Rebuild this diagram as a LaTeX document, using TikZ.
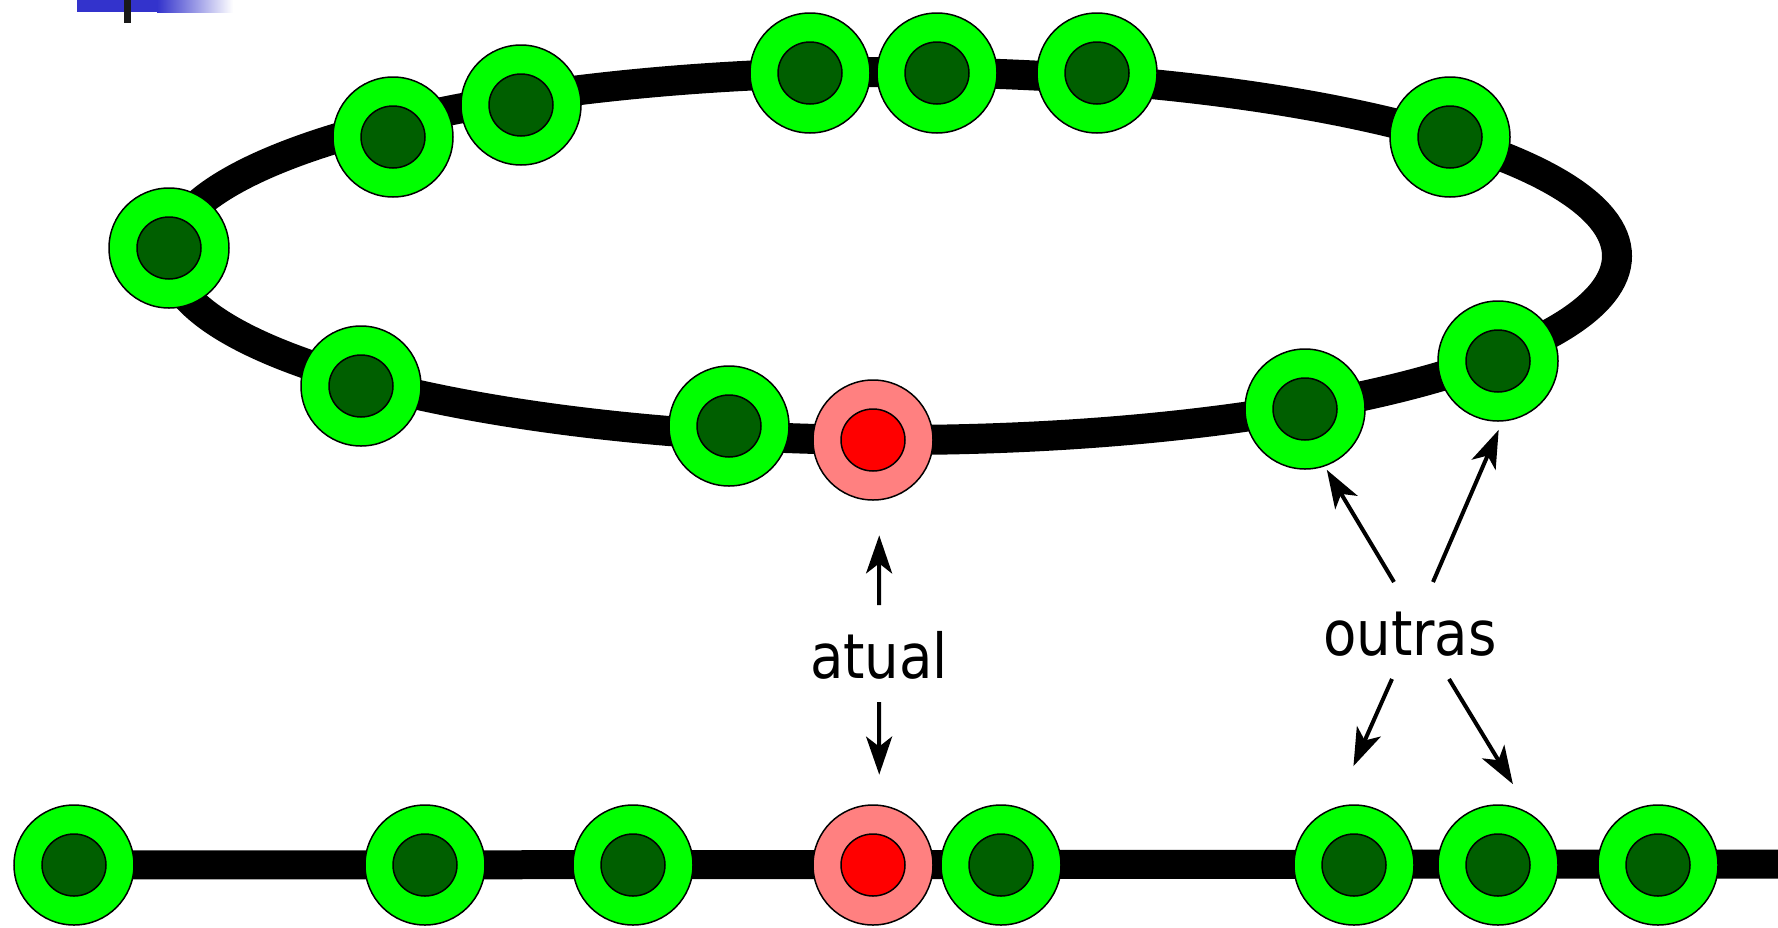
\documentclass[tikz,border=0pt]{standalone}
\usepackage{fontspec}
\setmainfont{DejaVu Sans}[FakeStretch=0.88]
\usepackage{tikz}
\usetikzlibrary{arrows.meta,backgrounds}

\definecolor{lgreen}{HTML}{00FF00}
\definecolor{dgreen}{HTML}{005F00}
\definecolor{lred}{HTML}{FF8080}
\definecolor{hred}{HTML}{FF0000}
\definecolor{topbar}{HTML}{3333CC}

\tikzset{
  ring/.style={circle, draw, line width=1.5pt, minimum size=120pt, inner sep=0pt},
  cell/.style={ring, fill=lgreen,
    path picture={\draw[line width=1.5pt, fill=dgreen] (path picture bounding box.center) circle [x radius=32pt, y radius=31pt];}},
  hot/.style={ring, fill=lred,
    path picture={\draw[line width=1.5pt, fill=hred] (path picture bounding box.center) circle [x radius=32pt, y radius=31pt];}},
  arr/.style={-{Stealth[length=38pt, width=26pt, inset=10pt]}, line width=4pt},
  lbl/.style={font=\fontsize{62}{70}\selectfont, inner sep=0pt}
}

\begin{document}
\begin{tikzpicture}[x=1pt, y=-1pt]
\useasboundingbox (0,0) rectangle (1778,927);

% slide bar
\fill[topbar] (77,0) rectangle (157,12);
\shade[left color=topbar, right color=white] (157,0) rectangle (233,12);
\fill[black!90] (124,0) rectangle (131,23);

% ring
\draw (169,248) node[cell](a1){}
    (393,137) node[cell](a2){}
    (521,105) node[cell](a3){}
    (810,73) node[cell](a4){}
    (937,73) node[cell](a5){}
    (1097,73) node[cell](a6){}
    (1450,137) node[cell](a7){}
    (1498,361) node[cell](a8){}
    (1305,409) node[cell](a9){}
    (873,440) node[hot](a10){}
    (729,426) node[cell](a11){}
    (361,386) node[cell](a12){};

% line
\draw (74,865) node[cell](b1){}
    (425,865) node[cell](b2){}
    (633,865) node[cell](b3){}
    (873,865) node[hot](b4){}
    (1001,865) node[cell](b5){}
    (1354,865) node[cell](b6){}
    (1498,865) node[cell](b7){}
    (1658,865) node[cell](b8){};
\coordinate (bend) at (1778,864);

\begin{scope}[on background layer]
    \draw[line width=30pt] (893,256) ellipse [x radius=724pt, y radius=184pt];
    \draw[line width=29pt] (b1.center) -- (bend);
\end{scope}

% labels
\node[lbl, anchor=base] (atual) at (879,678) {atual};
\node[lbl, anchor=base] (outras) at (1410,655) {outras};

\coordinate (t1) at (879,605);
\coordinate (t2) at (879,702);
\coordinate (t3) at (1394,582);
\coordinate (t4) at (1433,582);
\coordinate (t5) at (1392,679);
\coordinate (t6) at (1449,679);

\draw[arr, shorten >=35pt] (t1) -- (a10.276);
\draw[arr, shorten >=30pt] (t2) -- (b4.84);
\draw[arr, shorten >=4pt] (t3) -- (a9.289);
\draw[arr, shorten >=9pt] (t4) -- (a8.274);
\draw[arr, shorten >=45pt] (t5) -- (b6.108);
\draw[arr, shorten >=35pt] (t6) -- (b7.57);
\end{tikzpicture}
\end{document}
